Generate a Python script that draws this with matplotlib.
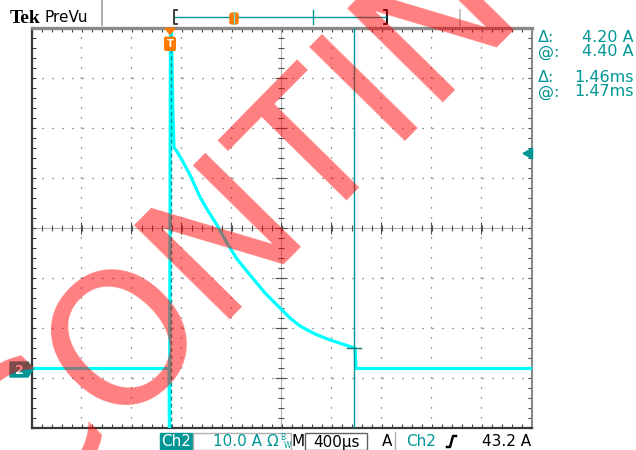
import numpy as np
import matplotlib
matplotlib.use("Agg")
import matplotlib.pyplot as plt
from matplotlib.patches import Rectangle, Polygon, FancyBboxPatch
from matplotlib.lines import Line2D

plt.rcParams['lines.scale_dashes'] = False

# ---------------- data ----------------
trace_t = [-1.10, -0.008, -0.004, 0.004, 0.008, 0.024, 0.032, 0.048, 0.096, 0.16,
           0.24, 0.30, 0.376, 0.456, 0.536, 0.64, 0.76, 0.88, 0.96, 1.04, 1.16,
           1.28, 1.38, 1.464, 1.48, 1.488, 2.89]
trace_i = [0.2, 0.2, -14.0, 72.0, 72.0, 50.3, 44.3, 43.9, 41.9, 38.9,
           34.5, 31.9, 28.9, 25.3, 22.1, 18.9, 15.3, 12.3, 10.3, 8.7, 7.1,
           5.9, 5.1, 4.4, 4.4, 0.2, 0.2]
cursor_t = [0.01, 1.47]
cursor_level = 4.40
trigger_level = 43.2
readouts = [("Δ:", "4.20 A"), ("@:", "4.40 A"), ("Δ:", "1.46ms"), ("@:", "1.47ms")]
status_ch = "Ch2"
status_scale = "10.0 A"
status_time = "400µs"
status_trig = "43.2 A"
watermark = "CONTINUED"

# ---------------- layout ----------------
W, H = 636, 450
TEAL = '#009696'
CYAN = '#00ffff'
ORANGE = '#ff7a00'

def P(x, y):
    return (x / W, 1 - y / H)

fig = plt.figure(figsize=(W / 100, H / 100), dpi=100)
fig.patch.set_facecolor('white')

ax_l, ax_r, ax_t, ax_b = 31.5, 531.5, 28.3, 428.3
ax = fig.add_axes([ax_l / W, 1 - ax_b / H, (ax_r - ax_l) / W, (ax_b - ax_t) / H])
tdiv, idiv = 0.4, 10.0
t0 = -(170 - ax_l) / 50 * tdiv
i0 = -(ax_b - 369.5) / 50 * idiv
x0, x1 = t0, t0 + 10 * tdiv
y0, y1 = i0, i0 + 8 * idiv
ax.set_xlim(x0, x1)
ax.set_ylim(y0, y1)
ax.set_facecolor('white')

# graticule
dot = (0, (0.8, 6.4))
for k in range(1, 10):
    x = x0 + k * tdiv
    if k == 5:
        continue
    ax.plot([x, x], [y0, y1], color='#505050', lw=0.9, ls=dot, zorder=1)
for k in range(1, 8):
    y = y0 + k * idiv
    if k == 4:
        continue
    ax.plot([x0, x1], [y, y], color='#505050', lw=0.9, ls=dot, zorder=1)
xc = x0 + 5 * tdiv
yc = y0 + 4 * idiv
ax.plot([xc, xc], [y0, y1], color='#606060', lw=0.8, ls=(0, (0.72, 0.72)), zorder=1)
ax.plot([x0, x1], [yc, yc], color='#606060', lw=0.8, ls=(0, (0.72, 0.72)), zorder=1)
mt = np.arange(x0, x1 + 1e-9, tdiv / 5)
mi = np.arange(y0, y1 + 1e-9, idiv / 5)
ax.plot(mt, np.full_like(mt, yc), ls='none', marker='|', ms=4.5, mew=0.8, color='#505050', zorder=1)
ax.plot(np.full_like(mi, xc), mi, ls='none', marker='_', ms=4.5, mew=0.8, color='#505050', zorder=1)
mtM = np.arange(x0, x1 + 1e-9, tdiv)
miM = np.arange(y0, y1 + 1e-9, idiv)
ax.plot(mtM, np.full_like(mtM, yc), ls='none', marker='|', ms=8, mew=0.8, color='#505050', zorder=1)
ax.plot(np.full_like(miM, xc), miM, ls='none', marker='_', ms=8, mew=0.8, color='#505050', zorder=1)

ax.set_xticks(mt, minor=True)
ax.set_yticks(mi, minor=True)
ax.set_xticks([])
ax.set_yticks([])
ax.tick_params(which='minor', direction='in', length=3, width=0.8, color='#404040',
               top=True, bottom=True, left=True, right=True,
               labelbottom=False, labelleft=False)
for s in ['left', 'bottom']:
    ax.spines[s].set_color('#383838')
    ax.spines[s].set_linewidth(1.6)
ax.spines['top'].set_color('#8a8a8a')
ax.spines['top'].set_linewidth(2.4)
ax.spines['right'].set_color('#8a8a8a')
ax.spines['right'].set_linewidth(1.5)

# trace
ax.plot(trace_t, trace_i, color=CYAN, lw=2.3, zorder=3, solid_joinstyle='round')
# cursors
ax.axvline(cursor_t[0], color=TEAL, lw=1.0, ls=(0, (3, 2)), zorder=4)
ax.axvline(cursor_t[1], color=TEAL, lw=1.0, zorder=4)
ax.plot([cursor_t[1] - 0.055, cursor_t[1] + 0.055], [cursor_level, cursor_level],
        color='#207070', lw=1.0, zorder=4)

# trigger position marker (top of graticule)
ax.add_patch(Polygon([[0.0, y1 - 1.2], [-0.04, y1], [0.04, y1]], closed=True,
                     transform=ax.transData, color=ORANGE, zorder=6, clip_on=False))
ax.add_patch(FancyBboxPatch((-0.042, y1 - 4.4), 0.084, 2.6,
                            boxstyle='round,pad=0.0,rounding_size=0.01',
                            color=ORANGE, zorder=6, mutation_aspect=30))
ax.text(0.0, y1 - 3.1, 'T', color='white', fontsize=7, fontweight='bold',
        ha='center', va='center', zorder=7)

# trigger level arrow (right)
ax.annotate('', xy=(x1 - 0.1, trigger_level), xytext=(x1, trigger_level),
            arrowprops=dict(arrowstyle='-|>,head_length=0.6,head_width=0.35',
                            color=TEAL, lw=1.5), zorder=6, annotation_clip=False)

# ground marker (left)
fig.add_artist(Polygon([P(10, 362), P(28, 362), P(33, 369.5), P(28, 377), P(10, 377)],
                       closed=True, transform=fig.transFigure, color=TEAL, zorder=5))
fig.text(*P(19, 370), '2', color='white', fontsize=9, fontweight='bold',
         ha='center', va='center', zorder=6)

# ---------------- header ----------------
fig.text(*P(10, 23), 'Tek', fontsize=14, fontweight='bold', family='Liberation Serif',
         ha='left', va='baseline', color='black')
fig.text(*P(44, 21.5), 'PreVu', fontsize=11, ha='left', va='baseline', color='black')
fig.add_artist(Line2D([P(102, 0)[0]] * 2, [P(0, 0)[1], P(0, 25)[1]], color='#a0a0a0',
                      lw=1.2, transform=fig.transFigure))
def fline(xs, ys, **kw):
    fig.add_artist(Line2D([x / W for x in xs], [1 - y / H for y in ys],
                          transform=fig.transFigure, **kw))
fline([177, 174, 174, 177], [10, 10, 24, 24], color='#303030', lw=1.3)
fline([384, 387, 387, 384], [10, 10, 24, 24], color='#000000', lw=1.3)
fline([175, 386], [16.7, 16.7], color=TEAL, lw=1.0)
fline([313, 313], [10, 24], color=TEAL, lw=1.0)
fline([460, 460], [10, 25], color='#c8c8c8', lw=1.5)
fig.add_artist(FancyBboxPatch(P(230, 24), 8 / W, 11 / H,
                              boxstyle='round,pad=0,rounding_size=0.004',
                              transform=fig.transFigure, color=ORANGE, zorder=5))
fline([234, 234], [12, 24], color='#70e0e0', lw=1.0, zorder=6)

# readouts
ys = [37, 52, 77, 92]
for (lab, val), y in zip(readouts, ys):
    fig.text(*P(538, y), lab, color=TEAL, fontsize=11.5, ha='left', va='center')
    fig.text(*P(634, y), val, color=TEAL, fontsize=11.5, ha='right', va='center')

# ---------------- status bar ----------------
fig.add_artist(Rectangle(P(160, 450), 32 / W, 17.5 / H, transform=fig.transFigure,
                         color=TEAL, zorder=2))
fig.text(*P(176, 442), status_ch, color='white', fontsize=11, ha='center', va='center', zorder=3)
fig.add_artist(Rectangle(P(193, 450), 98 / W, 17.5 / H, transform=fig.transFigure,
                         facecolor='white', edgecolor='#b0b0b0', lw=1, zorder=2))
fig.text(*P(238, 442), status_scale, color=TEAL, fontsize=11, ha='center', va='center', zorder=3)
fig.text(*P(272, 442), 'Ω', color=TEAL, fontsize=11, ha='center', va='center', zorder=3)
fig.text(*P(283, 438), 'B', color=TEAL, fontsize=5.5, ha='center', va='center', zorder=3)
fig.text(*P(287.5, 445), 'W', color=TEAL, fontsize=5.5, ha='center', va='center', zorder=3)
fig.text(*P(298.5, 442), 'M', color='black', fontsize=11, ha='center', va='center', zorder=3)
fig.add_artist(Rectangle(P(305, 450), 62 / W, 17.5 / H, transform=fig.transFigure,
                         facecolor='white', edgecolor='#606060', lw=1, zorder=2))
fig.text(*P(336, 442), status_time, color='black', fontsize=11, ha='center', va='center', zorder=3)
fig.text(*P(387, 442), 'A', color='black', fontsize=11, ha='center', va='center', zorder=3)
fline([395, 395], [432, 450], color='#b0b0b0', lw=1)
fig.text(*P(421, 442), status_ch, color=TEAL, fontsize=11, ha='center', va='center', zorder=3)
fline([447, 450, 453, 456], [447, 447, 436, 436], color='black', lw=1.8)
fig.text(*P(531, 442), status_trig, color='black', fontsize=11, ha='right', va='center', zorder=3)

# ---------------- watermark ----------------
fig.text(23.5 / W, 1 - 518.5 / H, watermark, rotation=45.5, rotation_mode='anchor',
         ha='left', va='baseline', fontsize=132.5, color='red', alpha=0.5, zorder=20)

fig.savefig('out.png', dpi=100)
